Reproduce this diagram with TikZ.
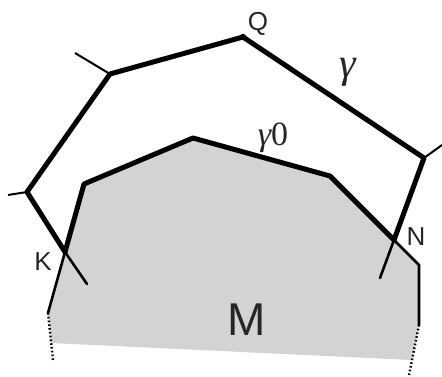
\documentclass[tikz,border=0pt]{standalone}
\usepackage{fontspec}
\setmainfont{Liberation Sans}
\newfontfamily\greekfont{Liberation Serif}
\usepackage{tikz}
\usetikzlibrary{positioning}

\definecolor{regiongray}{RGB}{211,211,211}

\begin{document}
\begin{tikzpicture}[
    x=1pt, y=-1pt,
    bold/.style={line width=5pt, line join=round, line cap=round},
    thin/.style={line width=2.6pt, line cap=round},
    tick/.style={line width=2pt},
    cut/.style={line width=2.4pt, dash pattern=on 1.6pt off 2.2pt},
    lbl/.style={font=\fontsize{26}{26}\selectfont, text=black!85, inner sep=0pt},
    greek/.style={font=\fontsize{#1}{#1}\selectfont\greekfont, text=black!85, inner sep=0pt}
]
\useasboundingbox (0,0) rectangle (442,377);

% Points
\coordinate (v1) at (27,192);
\coordinate (v2) at (110,74);
\coordinate (q)  at (243,37);
\coordinate (v3) at (424,158);
\coordinate (k)  at (65,252);
\coordinate (n)  at (394,240);
\coordinate (kend) at (87,284);
\coordinate (nend) at (380,278);
\coordinate (m1) at (84,184);
\coordinate (m2) at (193,138);
\coordinate (m3) at (330,176);
\coordinate (m4) at (419,265);
\coordinate (m5) at (419,325);
\coordinate (l1) at (48,313);
\coordinate (l2) at (53,360);
\coordinate (r2) at (409,375);

% Region M
\fill[regiongray] (51,343) -- (l1) -- (k) -- (m1) -- (m2) -- (m3) -- (n) -- (m4) -- (m5) -- (412,360) -- cycle;

% Boundary gamma_0
\draw[bold] (k) -- (m1) -- (m2) -- (m3) -- (n);
\draw[thin] (l1) -- (k);
\draw[thin] (n) -- (m4) -- (m5);
\draw[cut] (l1) -- (l2);
\draw[cut] (m5) -- (r2);

% Curve gamma
\draw[bold] (k) -- (v1) -- (v2) -- (q) -- (v3) -- (n);
\draw[thin] (k) -- (kend);
\draw[thin] (n) -- (nend);
\fill (q) circle (3.2);

% Ticks
\draw[tick] (v1) -- (8,195);
\draw[tick] (v2) -- (75,53);
\draw[tick] (v3) -- (442,145);

% Labels
\node[lbl] (qlabel) at (258,24) {Q};
\node[lbl] (klabel) at (43,262) {K};
\node[lbl] (nlabel) at (416,237) {N};
\node[lbl, font=\fontsize{46}{46}\selectfont] (mlabel) at (247,320) {M};
\node[greek=42] (glabel) at (348,72) {\itshape γ};
\node[greek=34] (g0label) at (273,138) {{\itshape γ}0};

\end{tikzpicture}
\end{document}
